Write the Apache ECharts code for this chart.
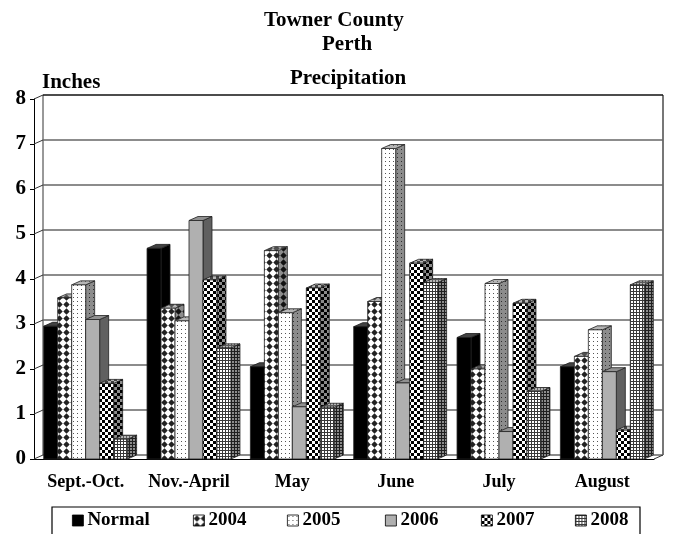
<!DOCTYPE html>
<html><head><meta charset="utf-8">
<script src="https://cdn.jsdelivr.net/npm/echarts@6/dist/echarts.min.js"></script>
<style>html,body{margin:0;padding:0;background:#fff}#c{width:673px;height:534px}</style>
</head><body><div id="c"></div>
<script>
const categories = ['Sept.-Oct.', 'Nov.-April', 'May', 'June', 'July', 'August'];
const seriesNames = ['Normal', '2004', '2005', '2006', '2007', '2008'];
const normal = [2.95, 4.68, 2.05, 2.94, 2.7, 2.05];
const y2004 = [3.58, 3.35, 4.63, 3.5, 2.0, 2.28];
const y2005 = [3.87, 3.07, 3.25, 6.9, 3.9, 2.87];
const y2006 = [3.1, 5.3, 1.16, 1.69, 0.61, 1.94];
const y2007 = [1.68, 3.98, 3.8, 4.35, 3.46, 0.64];
const y2008 = [0.44, 2.47, 1.15, 3.92, 1.5, 3.87];
const yTicks = [0, 1, 2, 3, 4, 5, 6, 7, 8];

const allValues = [normal, y2004, y2005, y2006, y2007, y2008];
const FONT = '"Liberation Serif", "Times New Roman", serif';
const DX = 9, DY = 4;

function makePattern(kind) {
  const c = document.createElement('canvas');
  let ctx;
  if (kind === 'black') {
    c.width = 4; c.height = 4; ctx = c.getContext('2d');
    ctx.fillStyle = '#000'; ctx.fillRect(0, 0, 4, 4);
  } else if (kind === 'diamond') {
    c.width = 7; c.height = 7; ctx = c.getContext('2d');
    ctx.fillStyle = '#fff'; ctx.fillRect(0, 0, 7, 7);
    ctx.fillStyle = '#222';
    ctx.beginPath(); ctx.moveTo(3.5, 0.3); ctx.lineTo(6.7, 3.5); ctx.lineTo(3.5, 6.7); ctx.lineTo(0.3, 3.5); ctx.closePath(); ctx.fill();
  } else if (kind === 'dots') {
    c.width = 4; c.height = 4; ctx = c.getContext('2d');
    ctx.fillStyle = '#fff'; ctx.fillRect(0, 0, 4, 4);
    ctx.fillStyle = '#555'; ctx.fillRect(1, 1, 1, 1);
  } else if (kind === 'gray') {
    c.width = 4; c.height = 4; ctx = c.getContext('2d');
    ctx.fillStyle = '#b0b0b0'; ctx.fillRect(0, 0, 4, 4);
  } else if (kind === 'checker') {
    c.width = 6; c.height = 6; ctx = c.getContext('2d');
    ctx.fillStyle = '#fff'; ctx.fillRect(0, 0, 6, 6);
    ctx.fillStyle = '#000'; ctx.fillRect(0, 0, 3, 3); ctx.fillRect(3, 3, 3, 3);
  } else if (kind === 'grid') {
    c.width = 3; c.height = 3; ctx = c.getContext('2d');
    ctx.fillStyle = '#fff'; ctx.fillRect(0, 0, 3, 3);
    ctx.fillStyle = '#3a3a3a'; ctx.fillRect(0, 0, 3, 1); ctx.fillRect(0, 0, 1, 3);
  }
  return { image: c, repeat: 'repeat' };
}
const patterns = ['black', 'diamond', 'dots', 'gray', 'checker', 'grid'].map(makePattern);

function barRenderer(si) {
  return function (params, api) {
    const cat = api.value(0), val = api.value(1);
    const base = api.coord([cat, 0]);
    const top = api.coord([cat, val]);
    const bandW = api.size([1, 0])[0];
    const bw = bandW * 0.812 / 6;
    const x0 = base[0] - 3 * bw + si * bw;
    const x1 = x0 + bw;
    const yt = top[1], yb = base[1];
    const pat = patterns[si];
    const stroke = '#222';
    const side = [[x1, yt], [x1 + DX, yt - DY], [x1 + DX, yb - DY], [x1, yb]];
    const topF = [[x0, yt], [x0 + DX, yt - DY], [x1 + DX, yt - DY], [x1, yt]];
    return {
      type: 'group',
      children: [
        { type: 'polygon', shape: { points: side }, style: { fill: pat, stroke: 'none' } },
        { type: 'polygon', shape: { points: side }, style: { fill: 'rgba(0,0,0,0.45)', stroke: stroke, lineWidth: 0.8 } },
        { type: 'polygon', shape: { points: topF }, style: { fill: pat, stroke: 'none' } },
        { type: 'polygon', shape: { points: topF }, style: { fill: 'rgba(120,120,120,0.55)', stroke: stroke, lineWidth: 0.8 } },
        { type: 'rect', shape: { x: x0, y: yt, width: bw, height: yb - yt }, style: { fill: pat, stroke: stroke, lineWidth: 0.8 } }
      ]
    };
  };
}

function wallRenderer(params, api) {
  const cs = params.coordSys;
  const v = api.value(1);
  const y = api.coord([0, v])[1];
  const xl = cs.x, xr = cs.x + cs.width;
  const children = [];
  children.push({ type: 'line', shape: { x1: xl, y1: y, x2: xl + DX, y2: y - DY }, style: { stroke: '#333', lineWidth: 1 } });
  children.push({ type: 'line', shape: { x1: xl + DX, y1: y - DY, x2: xr + DX, y2: y - DY }, style: { stroke: v === 8 ? '#111' : '#666', lineWidth: v === 8 ? 1.6 : 1.4 } });
  if (v === 0) {
    const yTop = api.coord([0, 8])[1];
    children.push({ type: 'line', shape: { x1: xl + DX, y1: y - DY, x2: xl + DX, y2: yTop - DY }, style: { stroke: '#333', lineWidth: 1 } });
    children.push({ type: 'line', shape: { x1: xr + DX, y1: y - DY, x2: xr + DX, y2: yTop - DY }, style: { stroke: '#777', lineWidth: 2 } });
    children.push({ type: 'line', shape: { x1: xr, y1: y, x2: xr + DX, y2: y - DY }, style: { stroke: '#333', lineWidth: 1 } });
  }
  return { type: 'group', children: children };
}

const legendX = [72, 193, 287, 385, 481, 575];

const series = [{
  type: 'custom', name: 'wall', silent: true, z: 1, clip: false,
  data: yTicks.map(v => [0, v]), encode: { x: 0, y: 1 },
  renderItem: wallRenderer
}];
seriesNames.forEach((n, i) => {
  series.push({
    type: 'custom', name: n, z: 3 + i, clip: false,
    itemStyle: { color: patterns[i] },
    data: allValues[i].map((v, ci) => [ci, v]),
    encode: { x: 0, y: 1 },
    renderItem: barRenderer(i)
  });
});

const titleStyle = { fontFamily: FONT, fontSize: 21, fontWeight: 'bold', color: '#000' };
const chart = echarts.init(document.getElementById('c'), null, { renderer: 'canvas' });
chart.setOption({
  animation: false,
  backgroundColor: '#fff',
  title: [
    { text: 'Towner County', left: 264, top: 10, padding: 0, textStyle: titleStyle },
    { text: 'Perth', left: 322, top: 34, padding: 0, textStyle: titleStyle },
    { text: 'Precipitation', left: 290, top: 68, padding: 0, textStyle: titleStyle },
    { text: 'Inches', left: 42, top: 72, padding: 0, textStyle: titleStyle }
  ],
  legend: seriesNames.map((n, i) => ({
    data: [n], left: legendX[i], top: 511, padding: 0,
    icon: 'rect', itemWidth: 11, itemHeight: 11, itemGap: 0,
    selectedMode: false,
    itemStyle: { borderColor: '#000', borderWidth: 0.8 },
    textStyle: { fontFamily: FONT, fontSize: 19, fontWeight: 'bold', color: '#000', padding: [0, 0, 0, -1] }
  })),
  graphic: [{
    type: 'rect', silent: true, z: 0,
    shape: { x: 52, y: 507, width: 588, height: 40 },
    style: { fill: 'none', stroke: '#000', lineWidth: 1.2 }
  }],
  grid: { left: 34, right: 19, top: 99, bottom: 75 },
  xAxis: {
    type: 'category', data: categories,
    axisLine: { show: true, lineStyle: { color: '#000', width: 1 } },
    axisTick: { show: false },
    axisLabel: { interval: 0, hideOverlap: false, fontFamily: FONT, fontSize: 18, fontWeight: 'bold', color: '#000', margin: 14 },
    splitLine: { show: false }
  },
  yAxis: {
    type: 'value', min: 0, max: 8, interval: 1,
    axisLine: { show: true, lineStyle: { color: '#000', width: 1 } },
    axisTick: { show: true, length: 4, lineStyle: { color: '#000' } },
    axisLabel: { fontFamily: FONT, fontSize: 21, fontWeight: 'bold', color: '#000', margin: 8 },
    splitLine: { show: false }
  },
  series: series
});
</script>
</body></html>
